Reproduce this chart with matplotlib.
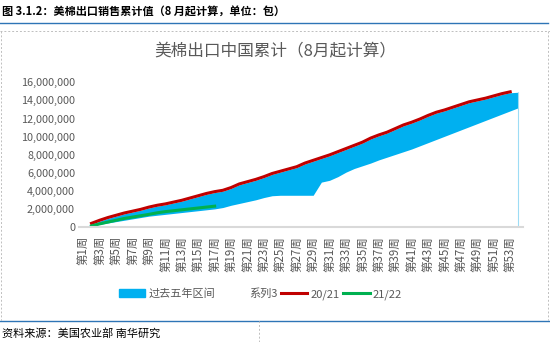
import matplotlib.pyplot as plt
import numpy as np
from matplotlib.lines import Line2D
from matplotlib.patches import Patch
from matplotlib.ticker import FuncFormatter

plt.rcParams['font.family'] = ['Noto Sans CJK SC', 'DejaVu Sans']

# 周次 (第1周 ... 第54周)
weeks = np.arange(1, 55)
week_labels = ["第%d周" % w for w in weeks]

# 过去五年区间 下沿 / 上沿 (百万包)
band_low = [0, 0.15, 0.35, 0.5, 0.65, 0.8, 0.95, 1.1, 1.25, 1.35,
            1.45, 1.55, 1.65, 1.75, 1.85, 1.95, 2.05, 2.2, 2.45, 2.65,
            2.85, 3.05, 3.3, 3.5, 3.55, 3.55, 3.55, 3.55, 3.55, 5.0,
            5.2, 5.6, 6.1, 6.5, 6.8, 7.1, 7.45, 7.75, 8.05, 8.35,
            8.65, 9.0, 9.35, 9.7, 10.05, 10.4, 10.75, 11.1, 11.45, 11.8,
            12.15, 12.5, 12.85, 13.2]
band_high = [0, 0.35, 0.7, 1.0, 1.25, 1.5, 1.7, 1.9, 2.15, 2.35,
             2.5, 2.7, 2.9, 3.15, 3.4, 3.65, 3.85, 4.0, 4.3, 4.7,
             4.95, 5.2, 5.5, 5.85, 6.1, 6.35, 6.6, 7.0, 7.3, 7.6,
             7.9, 8.25, 8.6, 8.95, 9.3, 9.75, 10.1, 10.4, 10.8, 11.2,
             11.5, 11.85, 12.25, 12.6, 12.85, 13.15, 13.45, 13.75, 13.95, 14.15,
             14.4, 14.65, 14.85, 14.9]

# 20/21 (第1周 ~ 第53周)
s2021 = [np.nan, 0.46, 0.8, 1.1, 1.35, 1.6, 1.8, 2.0, 2.25, 2.45,
         2.6, 2.8, 3.0, 3.25, 3.5, 3.75, 3.95, 4.1, 4.4, 4.8,
         5.05, 5.3, 5.6, 5.95, 6.2, 6.45, 6.7, 7.1, 7.4, 7.7,
         8.0, 8.35, 8.7, 9.05, 9.4, 9.85, 10.2, 10.5, 10.9, 11.3,
         11.6, 11.95, 12.35, 12.7, 12.95, 13.25, 13.55, 13.85, 14.05, 14.25,
         14.5, 14.75, 14.95]

# 21/22 (第1周 ~ 第17周)
s2122 = [np.nan, 0.17, 0.4, 0.6, 0.8, 1.0, 1.15, 1.3, 1.45, 1.62,
         1.75, 1.85, 1.95, 2.05, 2.15, 2.25, 2.35]

M = 1e6
low = np.array(band_low) * M
high = np.array(band_high) * M
y2021 = np.array(s2021) * M
y2122 = np.array(s2122) * M

fig = plt.figure(figsize=(5.5, 3.42), dpi=100)
ax = fig.add_axes([0.144, 0.3348, 0.806, 0.4246])

ax.fill_between(weeks, low, high, color="#00b0f0", linewidth=0)
ax.vlines(weeks[-1], 0, high[-1], color="#9ddcf5", linewidth=0.8)
ax.plot(weeks[:len(y2021)], y2021, color="#c00000", linewidth=2.2)
ax.plot(weeks[:len(y2122)], y2122, color="#00b050", linewidth=2.2)

ax.set_xlim(0.5, 54.5)
ax.set_ylim(0, 16e6)
ax.set_yticks(np.arange(0, 16e6 + 1, 2e6))
ax.yaxis.set_major_formatter(FuncFormatter(lambda v, p: "{:,.0f}".format(v)))
ax.set_xticks(weeks[::2])
ax.set_xticklabels(week_labels[::2], rotation=90)
ax.tick_params(axis="both", length=0, colors="#595959")
ax.tick_params(axis="x", pad=6, labelsize=8.3)
ax.tick_params(axis="y", pad=3, labelsize=7.8)
for s in ["top", "right", "left"]:
    ax.spines[s].set_visible(False)
ax.spines["bottom"].set_color("#d9d9d9")
ax.spines["bottom"].set_linewidth(1.5)

fig.text(0.5, 1 - 52 / 342, "美棉出口中国累计（8月起计算）", ha="center", va="center",
         fontsize=12, color="#595959")

handles = [Patch(color="#00b0f0"),
           Line2D([], [], color="none"),
           Line2D([], [], color="#c00000", linewidth=2.2),
           Line2D([], [], color="#00b050", linewidth=2.2)]
labels = ["过去五年区间", "系列3", "20/21", "21/22"]
fig.legend(handles, labels, loc="center", bbox_to_anchor=(0.4736, 1 - 294 / 342),
           ncol=4, frameon=False, fontsize=8, handlelength=2.4, handletextpad=0.3,
           columnspacing=0.3, labelcolor="#595959")

# 报告页面框线
fig.text(0.004, 1 - 12.5 / 342, "图 3.1.2：美棉出口销售累计值（8 月起计算，单位：包）",
         ha="left", va="center", fontsize=8, fontweight="bold", color="black")
fig.add_artist(Line2D([0, 0.997], [1 - 23.3 / 342] * 2, color="#2e75b6", linewidth=1.0))
fig.add_artist(Line2D([0, 1], [1 - 31 / 342] * 2, color="#bfbfbf", linewidth=0.7, linestyle=(0, (2, 2))))
fig.add_artist(Line2D([0.002, 0.002], [1 - 31 / 342, 1 - 320 / 342], color="#bfbfbf", linewidth=0.7, linestyle=(0, (2, 2))))
fig.add_artist(Line2D([0.996, 0.996], [1 - 31 / 342, 1 - 320 / 342], color="#bfbfbf", linewidth=0.7, linestyle=(0, (2, 2))))
fig.add_artist(Line2D([0, 1], [1 - 320.7 / 342] * 2, color="#2e75b6", linewidth=1.0))
fig.add_artist(Line2D([259 / 550, 259 / 550], [0, 1 - 321 / 342], color="#bfbfbf", linewidth=0.7, linestyle=(0, (2, 2))))
fig.text(0.004, 1 - 333 / 342, "资料来源：美国农业部 南华研究", ha="left", va="center",
         fontsize=8, color="black")

fig.savefig("out.png", dpi=100)
